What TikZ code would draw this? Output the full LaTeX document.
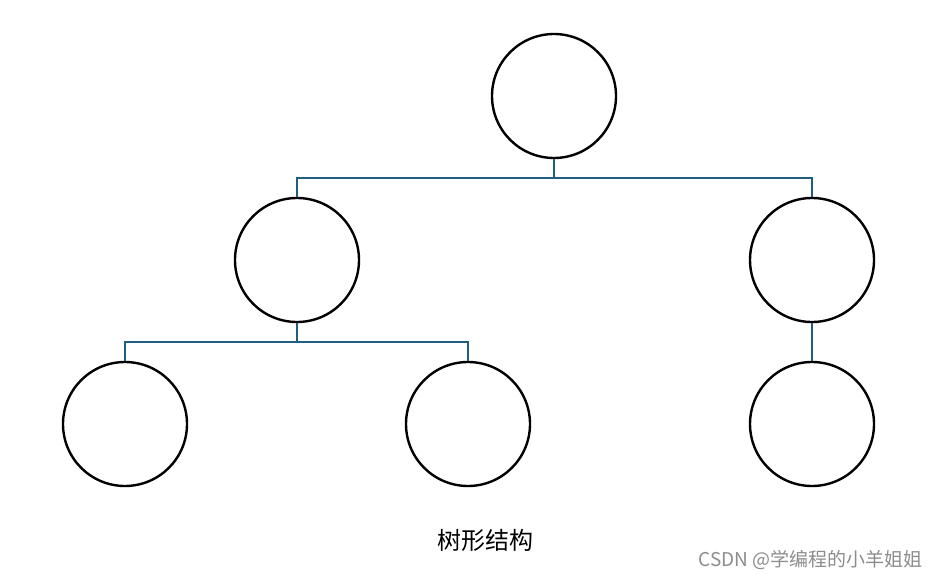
\documentclass[tikz,border=0pt]{standalone}
\usepackage{fontspec}
\setmainfont{Noto Sans CJK SC}
\newfontfamily\cjk{Noto Sans CJK SC}
\begin{document}
\begin{tikzpicture}[x=1pt,y=-1pt,
  treenode/.style={circle,draw=black,line width=2.4pt,minimum size=124pt,inner sep=0pt},
  link/.style={line width=2.6pt,color={rgb,255:red,30;green,94;blue,126}}]
\useasboundingbox (0,0) rectangle (941,580);
\node[treenode] (r) at (554,96) {};
\node[treenode] (a) at (297,260) {};
\node[treenode] (b) at (812,260) {};
\node[treenode] (c) at (125,424) {};
\node[treenode] (d) at (468,424) {};
\node[treenode] (e) at (812,424) {};
\coordinate (j1) at (554,178);
\coordinate (j2) at (297,342);
\draw[link] (r.south) -- (j1);
\draw[link] (a.north) |- (j1) -| (b.north);
\draw[link] (a.south) -- (j2);
\draw[link] (c.north) |- (j2) -| (d.north);
\draw[link] (b.south) -- (e.north);
\node[font=\cjk\fontsize{24}{28}\selectfont] (t) at (485,540) {树形结构};
\node[font=\cjk\fontsize{19}{22}\selectfont,text=black!45,anchor=east] (w) at (926,560) {CSDN @学编程的小羊姐姐};
\end{tikzpicture}
\end{document}
